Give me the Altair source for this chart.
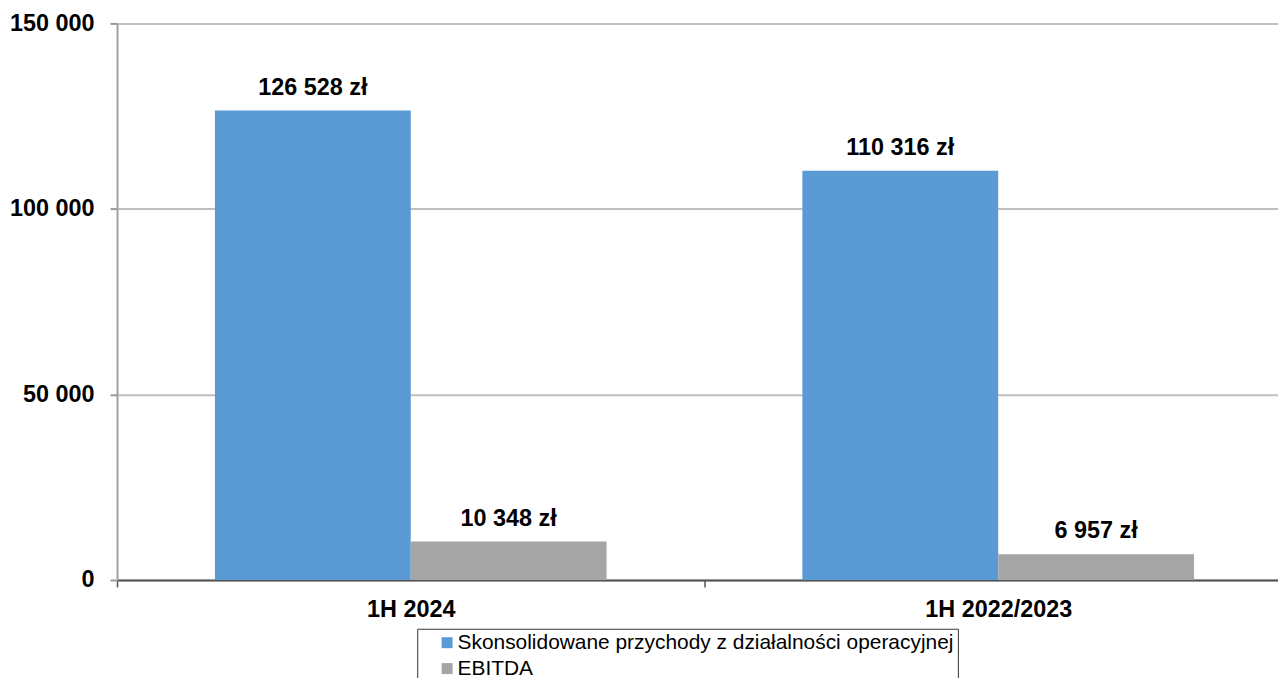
import altair as alt
import pandas as pd

categories = ["1H 2024", "1H 2022/2023"]
series = ["Skonsolidowane przychody z działalności operacyjnej", "EBITDA"]
revenue = [126528, 110316]
ebitda = [10348, 6957]
colors = ["#5B9BD5", "#A5A5A5"]
y_ticks = [0, 50000, 100000, 150000]

rows = []
for i, c in enumerate(categories):
    rows.append({"okres": c, "seria": series[0], "wartosc": revenue[i]})
    rows.append({"okres": c, "seria": series[1], "wartosc": ebitda[i]})
df = pd.DataFrame(rows)

FONT = "Liberation Sans"

x_enc = alt.X(
    "okres:N",
    sort=categories,
    title=None,
    scale=alt.Scale(range=[0, 1180], paddingInner=0, paddingOuter=0),
    axis=alt.Axis(
        tickBand="extent",
        labelAngle=0,
        labelFont=FONT,
        labelFontSize=23.5,
        labelFontWeight="bold",
        labelColor="#000000",
        labelPadding=11,
        tickSize=7,
        tickColor="#555555",
        tickWidth=1.5,
        domainColor="#555555",
        domainWidth=2,
        grid=False,
    ),
)
xoff_enc = alt.XOffset(
    "seria:N",
    sort=series,
    scale=alt.Scale(paddingInner=0, paddingOuter=0.5),
)
y_enc = alt.Y(
    "wartosc:Q",
    title=None,
    scale=alt.Scale(domain=[0, 150000], nice=False),
    axis=alt.Axis(
        values=y_ticks,
        labelExpr="replace(format(datum.value, ','), ',', ' ')",
        labelFont=FONT,
        labelFontSize=23.5,
        labelFontWeight="bold",
        labelColor="#000000",
        labelPadding=16,
        tickSize=7,
        tickColor="#999999",
        tickWidth=2,
        domainColor="#A0A0A0",
        domainWidth=2,
        gridColor="#C0C0C0",
        gridWidth=2,
    ),
)

bars = alt.Chart(df).mark_bar().encode(
    x=x_enc,
    xOffset=xoff_enc,
    y=y_enc,
    color=alt.Color(
        "seria:N",
        sort=series,
        scale=alt.Scale(domain=series, range=colors),
        legend=alt.Legend(
            title=None,
            orient="none",
            legendX=301.5,
            legendY=608,
            direction="vertical",
            symbolType="square",
            symbolSize=121,
            symbolStrokeWidth=0,
            symbolOffset=16,
            labelFont=FONT,
            labelFontSize=21,
            labelColor="#000000",
            labelOffset=0,
            rowPadding=4,
            padding=3.5,
            strokeColor="#333333",
            fillColor="#FFFFFF",
            labelLimit=0,
        ),
    ),
)

labels = alt.Chart(df).transform_calculate(
    etykieta="replace(format(datum.wartosc, ','), ',', ' ') + ' zł'"
).mark_text(
    font=FONT,
    fontSize=23.5,
    fontWeight="bold",
    color="#000000",
    baseline="alphabetic",
    dy=-16,
).encode(
    x=alt.X("okres:N", sort=categories),
    xOffset=alt.XOffset("seria:N", sort=series),
    y=alt.Y("wartosc:Q"),
    text="etykieta:N",
)

chart = (
    alt.layer(bars, labels)
    .properties(
        width=1166,
        height=559,
        autosize=alt.AutoSizeParams(type="none"),
        padding={"left": 109.5, "top": 14, "right": 0, "bottom": 97},
    )
    .configure_view(stroke=None)
    .configure(background="#FFFFFF")
)

chart.save("out.html", embed_options={"renderer": "svg", "actions": False})
